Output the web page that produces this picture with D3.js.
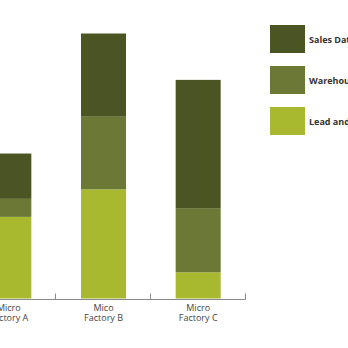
<!DOCTYPE html>
<html>
<head>
<meta charset="utf-8">
<script src="https://cdn.jsdelivr.net/npm/d3@7"></script>
<style>
  body { margin: 0; background: #fff; overflow: hidden; }
  svg { display: block; font-family: "Open Sans", sans-serif; }
</style>
</head>
<body>
<svg id="chart"></svg>
<script>
// data
var factories = ['Micro\nFactory A', 'Mico\nFactory B', 'Micro\nFactory C'];
var seriesNames = ['Lead and Order Data', 'Warehouse Data', 'Sales Data'];
var leadValues = [30.8, 41.2, 9.9];
var warehouseValues = [6.8, 27.4, 24.2];
var salesValues = [17.1, 31.4, 48.4];
var colors = ['#a8b82f', '#6c7936', '#4b5524'];

var svgWidth = 348, svgHeight = 348;
var svg = d3.select('#chart').attr('width', svgWidth).attr('height', svgHeight);

var rows = factories.map(function (f, i) {
    return { name: f, lead: leadValues[i], warehouse: warehouseValues[i], sales: salesValues[i] };
});
var keys = ['lead', 'warehouse', 'sales'];
var stacked = d3.stack().keys(keys)(rows);

var x = d3.scaleBand().domain(factories).range([-38.5, 245.5]).padding(0);
var y = d3.scaleLinear().domain([0, 100]).range([298.5, 33.5]);
var barWidth = 45;

var layer = svg.selectAll('g.layer')
    .data(stacked)
    .enter()
    .append('g')
    .attr('class', 'layer')
    .attr('fill', function (d, i) { return colors[i]; });

layer.selectAll('rect')
    .data(function (d) { return d; })
    .enter()
    .append('rect')
    .attr('x', function (d) { return x(d.data.name) + (x.bandwidth() - barWidth) / 2; })
    .attr('width', barWidth)
    .attr('y', function (d) { return y(d[1]); })
    .attr('height', function (d) { return y(d[0]) - y(d[1]); });

// axis
var axis = svg.append('g').attr('transform', 'translate(0,299.5)');
axis.append('line')
    .attr('x1', x.range()[0]).attr('x2', x.range()[1])
    .attr('stroke', '#8a8a8a').attr('stroke-width', 1);
axis.selectAll('line.tick')
    .data(factories)
    .enter()
    .append('line')
    .attr('class', 'tick')
    .attr('x1', function (d) { return Math.round(x(d) + x.bandwidth()) - 0.5; })
    .attr('x2', function (d) { return Math.round(x(d) + x.bandwidth()) - 0.5; })
    .attr('y1', -6).attr('y2', 0)
    .attr('stroke', '#8a8a8a');

var labels = axis.selectAll('text')
    .data(factories)
    .enter()
    .append('text')
    .attr('text-anchor', 'middle')
    .attr('fill', '#444')
    .attr('font-size', '9px')
    .attr('font-weight', 500)
    .attr('transform', function (d) { return 'translate(' + (x(d) + x.bandwidth() / 2) + ',0)'; });
labels.selectAll('tspan')
    .data(function (d) { return d.split('\n'); })
    .enter()
    .append('tspan')
    .attr('x', 0)
    .attr('y', function (d, i) { return 11 + i * 10; })
    .text(function (d) { return d; });

// legend, top item is the top of the stack
var legendOrder = [2, 1, 0];
var legend = svg.selectAll('g.legend')
    .data(legendOrder)
    .enter()
    .append('g')
    .attr('class', 'legend')
    .attr('transform', function (d, i) { return 'translate(270,' + (25 + i * 41) + ')'; });
legend.append('rect')
    .attr('width', 35).attr('height', 28)
    .attr('fill', function (d) { return colors[d]; });
legend.append('text')
    .attr('x', 39).attr('y', 17.5)
    .attr('fill', '#333')
    .attr('font-size', '9px')
    .attr('font-weight', 700)
    .text(function (d) { return seriesNames[d]; });
</script>
</body>
</html>
